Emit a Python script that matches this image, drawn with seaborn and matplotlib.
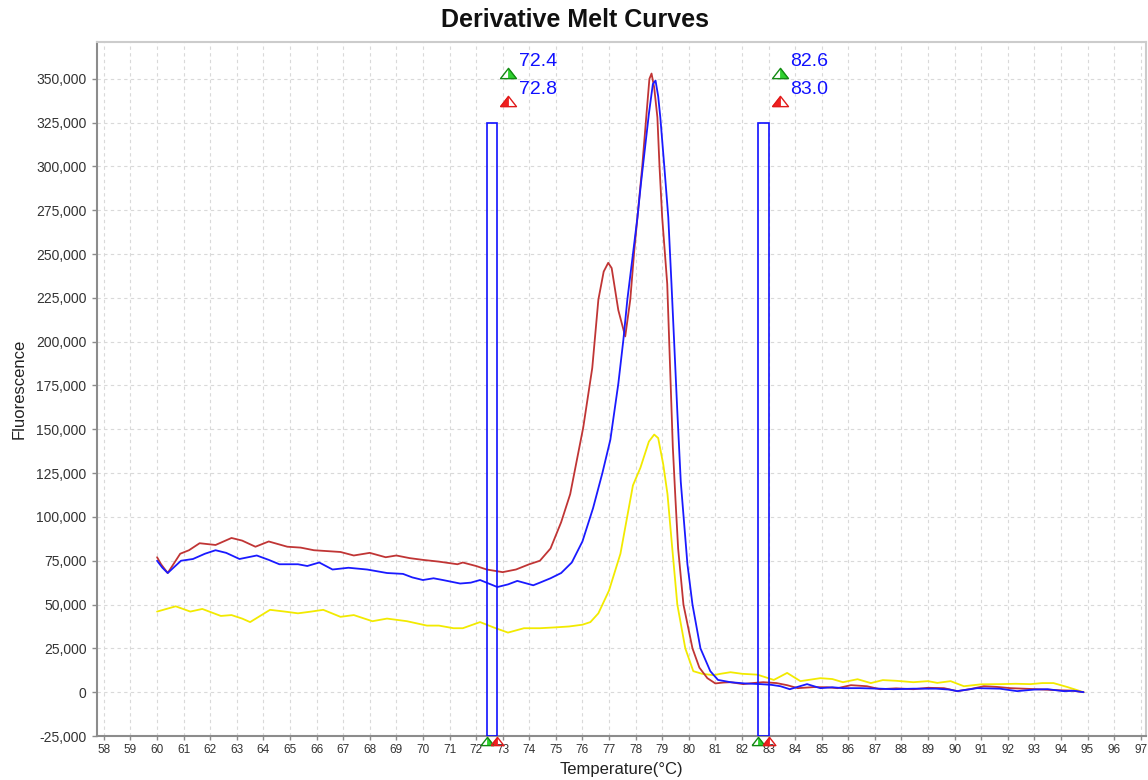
import numpy as np
import pandas as pd
import matplotlib
matplotlib.use("Agg")
import matplotlib.pyplot as plt
import matplotlib.transforms as mtransforms
from matplotlib.patches import Rectangle
from matplotlib.ticker import FuncFormatter, MultipleLocator
import seaborn as sns

# ---- melt curve data (-dF/dT) ----
temp_red = [60.0, 60.15, 60.4, 60.87, 61.2, 61.6, 62.2, 62.8, 63.2, 63.7, 64.2, 64.9,
            65.4, 65.9, 66.9, 67.4, 68.0, 68.6, 69.0, 69.5, 70.0, 70.6, 71.3, 71.5,
            72.0, 72.4, 73.0, 73.5, 74.0, 74.4, 74.8, 75.2, 75.54, 76.03, 76.37, 76.6,
            76.8, 76.97, 77.1, 77.35, 77.61, 77.8, 77.95, 78.07, 78.25, 78.4, 78.52,
            78.6, 78.7, 78.82, 78.9, 79.0, 79.19, 79.4, 79.5, 79.6, 79.8, 80.14, 80.4,
            80.7, 81.0, 81.3, 81.57, 82.05, 82.4, 82.8, 83.3, 83.7, 84.1, 84.7, 85.2,
            85.6, 86.1, 86.7, 87.2, 87.8, 88.45, 89.0, 89.6, 90.1, 90.6, 91.1, 91.6,
            92.1, 92.6, 93.1, 93.9, 94.4, 94.85]
fluo_red = [77000, 73000, 68000, 79000, 81000, 85000, 84000, 88000, 86500, 83000, 86000, 83000,
            82500, 81000, 80000, 78000, 79500, 77000, 78000, 76500, 75500, 74500, 73000, 74000,
            72000, 70000, 68500, 70000, 73000, 75000, 82000, 97000, 113000, 151000, 185000, 224000,
            240000, 245000, 242000, 218000, 203000, 224000, 252000, 271000, 300000, 328000, 350000,
            353000, 345000, 328000, 300000, 271000, 233000, 140000, 110000, 82000, 50000, 25000, 14000,
            8000, 5000, 5500, 5700, 4600, 5200, 5700, 5200, 4000, 2300, 2900, 2800,
            2300, 4000, 3400, 1700, 2200, 1700, 2500, 2300, 600, 1800, 3400, 3000,
            2300, 2000, 1700, 1100, 900, 0]

temp_blue = [60.0, 60.2, 60.4, 60.9, 61.35, 61.8, 62.2, 62.6, 63.1, 63.75, 64.2, 64.6,
             65.3, 65.65, 66.1, 66.6, 67.2, 67.9, 68.65, 69.25, 69.6, 70.0, 70.4, 70.75,
             71.4, 71.8, 72.15, 72.8, 73.2, 73.55, 74.15, 74.4, 74.8, 75.2, 75.6, 76.0,
             76.4, 76.75, 77.05, 77.35, 77.54, 77.69, 77.9, 78.07, 78.2, 78.35, 78.5,
             78.65, 78.75, 78.85, 78.93, 79.08, 79.23, 79.35, 79.45, 79.57, 79.7, 79.95,
             80.14, 80.44, 80.81, 81.1, 81.57, 82.1, 82.7, 83.1, 83.45, 83.8, 84.45, 84.95,
             85.4, 85.8, 86.45, 87.2, 87.7, 88.45, 89.3, 89.8, 90.1, 90.85, 91.7, 92.35,
             93.0, 93.5, 94.1, 94.5, 94.85]
fluo_blue = [75000, 71000, 68000, 75000, 76000, 79000, 81000, 79500, 76000, 78000, 75500, 73000,
             73000, 72000, 74000, 70000, 71000, 70000, 68000, 67500, 65500, 64000, 65000, 64000,
             62000, 62500, 64000, 60000, 61500, 63500, 61000, 62500, 65000, 68000, 74000, 86000,
             105000, 125000, 144000, 176000, 201000, 224000, 250000, 271000, 290000, 310000, 330000,
             347000, 349000, 340000, 328000, 300000, 271000, 233000, 200000, 160000, 120000, 73000,
             50000, 25000, 12000, 7000, 5700, 5000, 4600, 4200, 3400, 1700, 4600, 2300,
             2800, 2300, 2300, 2000, 1700, 2000, 2000, 1500, 600, 2300, 2000, 600,
             1500, 1700, 600, 800, 0]

temp_yellow = [60.0, 60.35, 60.7, 61.25, 61.7, 62.4, 62.8, 63.2, 63.5, 64.25, 64.8, 65.3,
               65.8, 66.25, 66.9, 67.4, 68.1, 68.65, 69.4, 70.15, 70.6, 71.15, 71.5, 72.15,
               72.65, 73.2, 73.8, 74.4, 75.0, 75.5, 76.0, 76.3, 76.6, 77.0, 77.43, 77.9,
               78.18, 78.5, 78.7, 78.85, 79.04, 79.2, 79.38, 79.57, 79.87, 80.17, 80.5,
               80.93, 81.2, 81.57, 82.0, 82.58, 83.2, 83.7, 84.2, 84.95, 85.4, 85.8, 86.35,
               86.85, 87.3, 87.8, 88.45, 89.0, 89.35, 89.85, 90.35, 91.0, 91.73, 92.3, 92.85,
               93.3, 93.72, 94.25, 94.85]
fluo_yellow = [46000, 47500, 49000, 46000, 47500, 43500, 44000, 42000, 40000, 47000, 46000, 45000,
               46000, 47000, 43000, 44000, 40500, 42000, 40500, 38000, 38000, 36500, 36500, 40000,
               37000, 34000, 36500, 36500, 37000, 37500, 38500, 40000, 45000, 58000, 79000, 118000,
               128000, 143000, 147000, 145000, 130000, 113000, 82000, 50000, 25000, 12000, 10500,
               9700, 10500, 11400, 10500, 10000, 7000, 11000, 6300, 8000, 7500, 5700, 7400,
               5200, 6900, 6500, 5700, 6300, 5300, 6300, 3400, 4500, 4600, 4800, 4600,
               5200, 5200, 2900, 0]

sample_names = ["Sample 1", "Sample 2", "Sample 3"]
sample_colors = ["#F2EA00", "#C03535", "#1A1AFF"]

# melt region cursor pairs (°C) and their bar height
cursor_pairs = [(72.4, 72.8), (82.6, 83.0)]
cursor_top = 325000

# axis ranges and ticks
x_ticks = list(range(58, 98))
y_ticks = list(range(-25000, 350001, 25000))

df = pd.concat([
    pd.DataFrame({"Temperature": temp_yellow, "Fluorescence": fluo_yellow, "Sample": sample_names[0]}),
    pd.DataFrame({"Temperature": temp_red, "Fluorescence": fluo_red, "Sample": sample_names[1]}),
    pd.DataFrame({"Temperature": temp_blue, "Fluorescence": fluo_blue, "Sample": sample_names[2]}),
], ignore_index=True)

sns.set_theme(style="white")
plt.rcParams["font.family"] = ["Liberation Sans", "DejaVu Sans"]

W, H = 1148, 780
fig = plt.figure(figsize=(W / 100, H / 100), dpi=100)
ax_l, ax_r, ax_t, ax_b = 97, 1146, 42, 736
ax = fig.add_axes([ax_l / W, 1 - ax_b / H, (ax_r - ax_l) / W, (ax_b - ax_t) / H])

sns.lineplot(data=df, x="Temperature", y="Fluorescence", hue="Sample",
             hue_order=sample_names, palette=dict(zip(sample_names, sample_colors)),
             estimator=None, sort=False, legend=False, linewidth=1.3, ax=ax, zorder=3)

ax.set_xlim(57.74, 97.2)
ax.set_ylim(-25000, 371000)
ax.set_xticks(x_ticks)
ax.set_yticks(y_ticks)
ax.yaxis.set_major_formatter(FuncFormatter(lambda v, _: f"{int(v):,}"))

ax.grid(True, color="#d9d9d9", linestyle=(0, (3, 3)), linewidth=0.8, zorder=0)
ax.set_axisbelow(True)

for side in ["left", "bottom"]:
    ax.spines[side].set_color("#8c8c8c")
    ax.spines[side].set_linewidth(1.5)
for side in ["top", "right"]:
    ax.spines[side].set_color("#cccccc")
    ax.spines[side].set_linewidth(1.5)

ax.tick_params(axis="y", which="major", direction="out", length=3.5, width=1,
               color="#8c8c8c", labelsize=10, labelcolor="#333333", pad=4, left=True)
ax.tick_params(axis="x", which="major", direction="out", length=3, width=1,
               color="#8c8c8c", labelsize=8.5, labelcolor="#333333", pad=3, bottom=True)

ax.set_xlabel("Temperature(°C)", fontsize=12, color="#222222")
ax.set_ylabel("Fluorescence", fontsize=12, color="#222222")
ax.xaxis.set_label_coords(0.5, -(762 - ax_b) / (ax_b - ax_t))
ax.yaxis.set_label_coords(-(ax_l - 27) / (ax_r - ax_l), 0.5)

fig.text(575 / W, 1 - 20 / H, "Derivative Melt Curves", ha="center", va="center",
         fontsize=18, fontweight="bold", color="#111111")

# cursor bars
for lo, hi in cursor_pairs:
    ax.add_patch(Rectangle((lo, -25000), hi - lo, cursor_top - (-25000),
                           fill=False, edgecolor="#1010FF", linewidth=1.2, zorder=4))

# half-filled triangle markers
tri_full = [(-1.4, -0.9), (1.4, -0.9), (0, 0.9), (-1.4, -0.9)]
tri_right = [(0, -0.9), (1.4, -0.9), (0, 0.9), (0, -0.9)]
tri_left = [(-1.4, -0.9), (0, -0.9), (0, 0.9), (-1.4, -0.9)]

green_edge, green_fill = "#138A13", "#2ED12E"
red_edge, red_fill = "#E01A1A", "#F02020"


def half_triangle(x, y, dx, dy, size, edge, fill, filled_half):
    tr = mtransforms.offset_copy(ax.transData, fig=fig, x=dx, y=dy, units="dots")
    ax.plot([x], [y], marker=filled_half, markersize=size, markerfacecolor=fill,
            markeredgecolor=fill, markeredgewidth=0.6, linestyle="none",
            transform=tr, clip_on=False, zorder=6)
    ax.plot([x], [y], marker=tri_full, markersize=size, markerfacecolor="none",
            markeredgecolor=edge, markeredgewidth=1.0, linestyle="none",
            transform=tr, clip_on=False, zorder=7)


for lo, hi in cursor_pairs:
    # on the x axis
    half_triangle(lo, -25000, 0, -5, 9.2, green_edge, green_fill, tri_right)
    half_triangle(hi, -25000, 0, -5, 9.2, red_edge, red_fill, tri_left)
    # above the bar, with the temperatures
    half_triangle(hi, cursor_top, 11, 50, 11.5, green_edge, green_fill, tri_right)
    half_triangle(hi, cursor_top, 11, 22, 11.5, red_edge, red_fill, tri_left)
    for val, dy in [(lo, 61), (hi, 33)]:
        tr = mtransforms.offset_copy(ax.transData, fig=fig, x=22, y=dy, units="dots")
        ax.text(hi, cursor_top, f"{val:.1f}", transform=tr, ha="left", va="center",
                fontsize=14, color="#1010FF", clip_on=False, zorder=8)

fig.savefig("out.png", dpi=100, facecolor="white")
